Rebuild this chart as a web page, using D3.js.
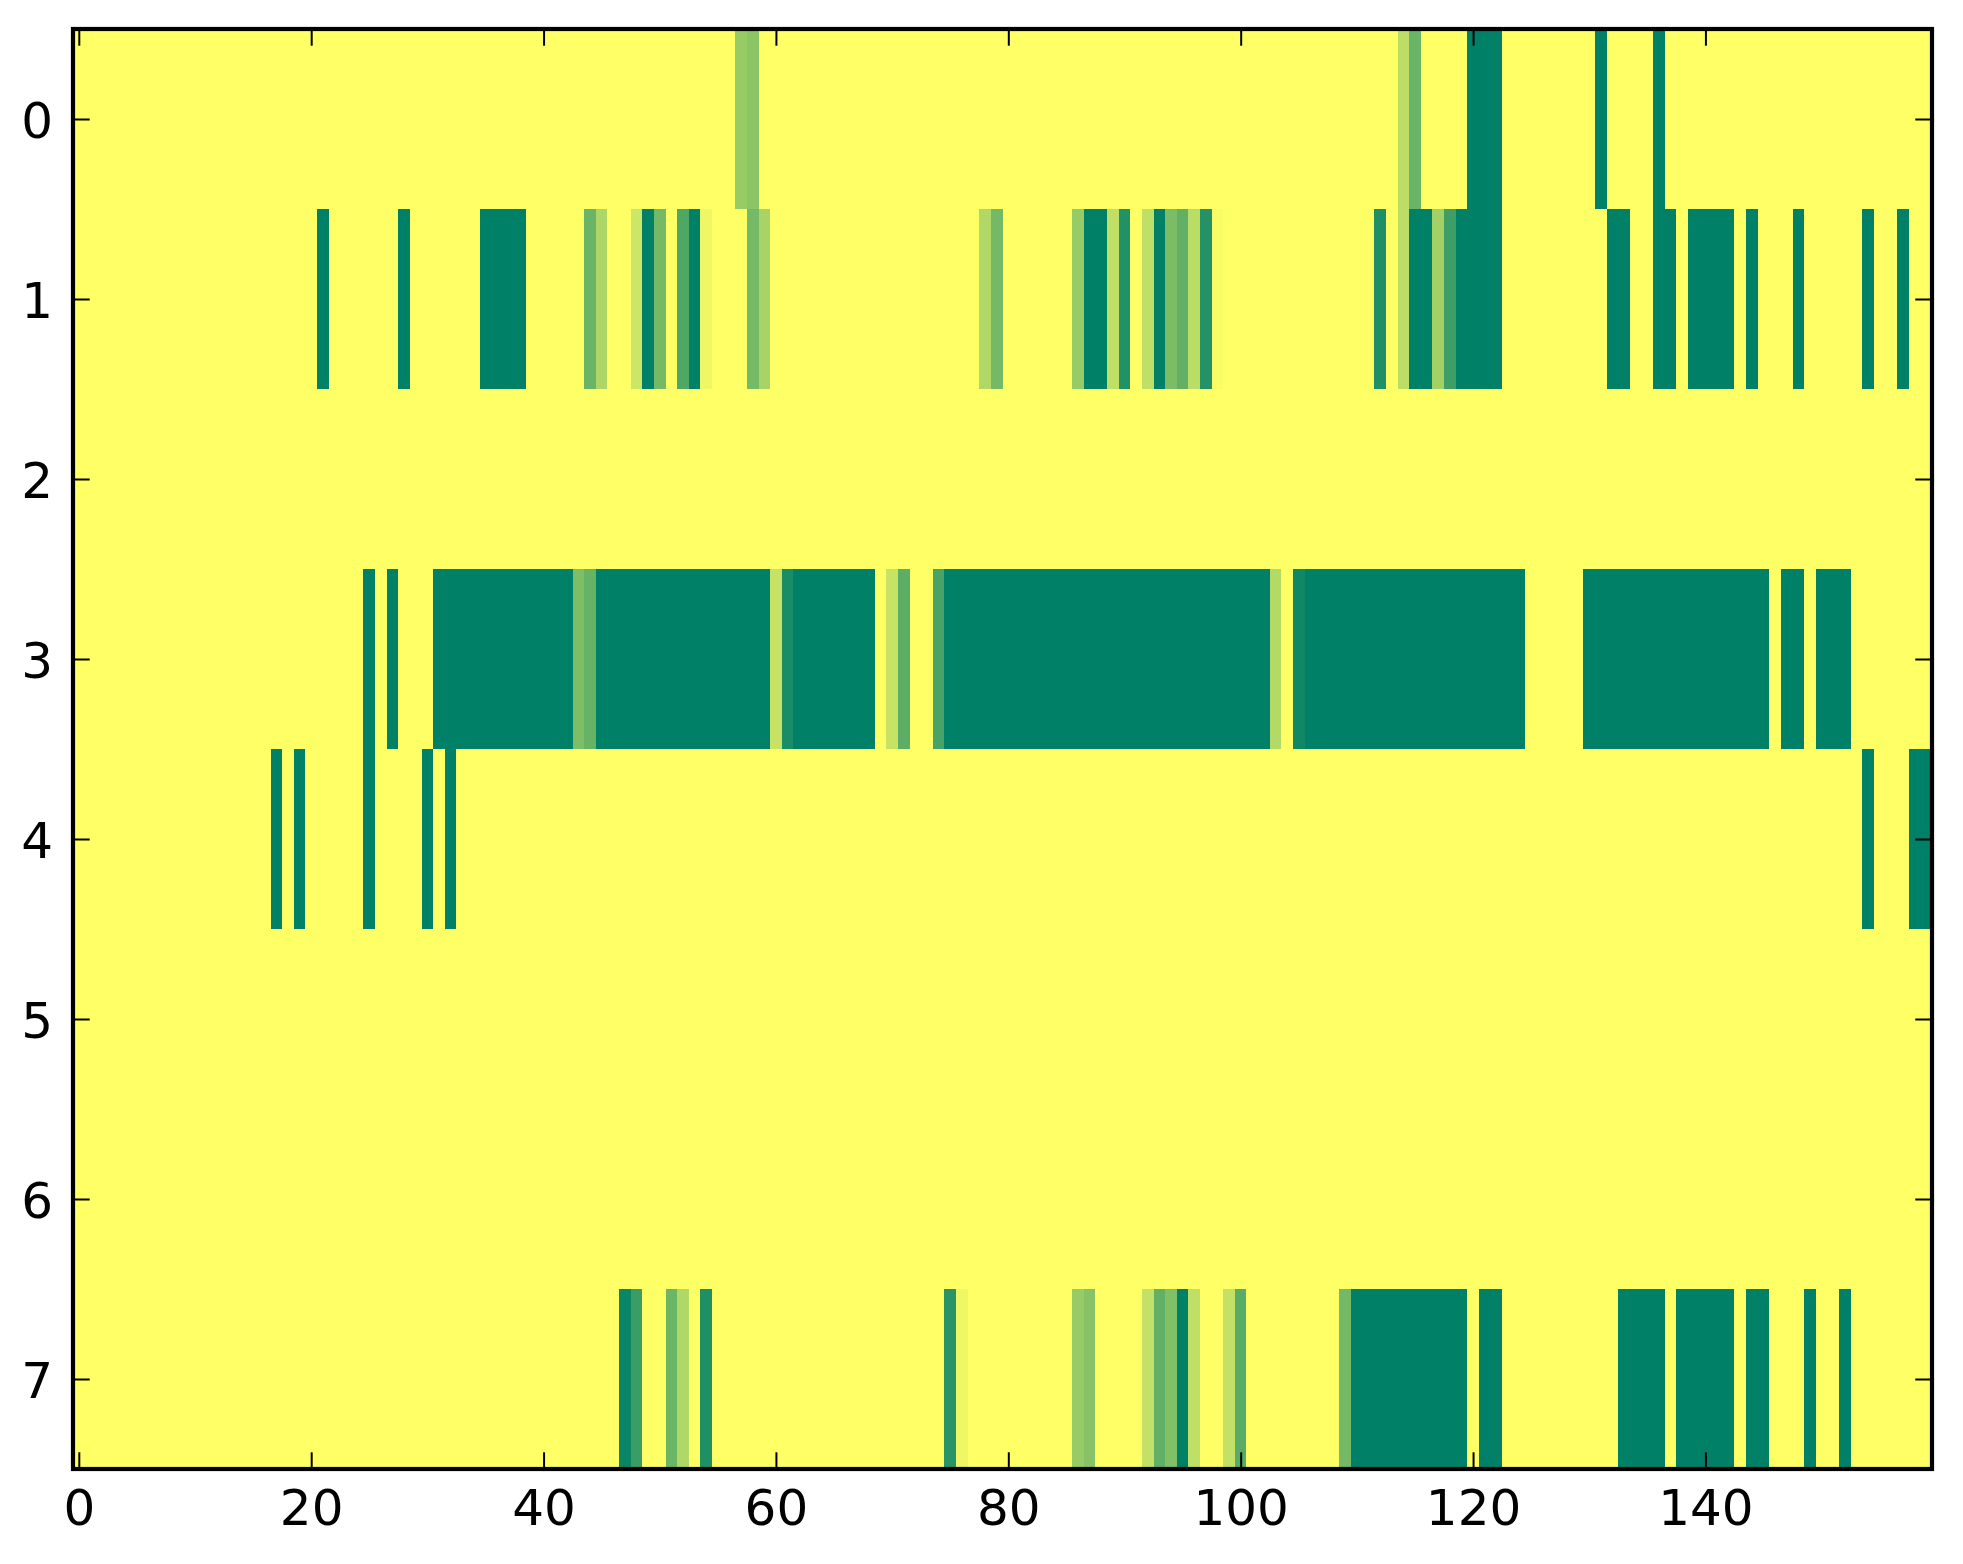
<!DOCTYPE html>
<html>
<head>
<meta charset="utf-8">
<script src="https://cdn.jsdelivr.net/npm/d3@7"></script>
<style>
  body { margin: 0; background: #fff; }
  svg { display: block; }
</style>
</head>
<body>
<svg id="chart" width="1963" height="1564"></svg>
<script>
var width = 1963;
var height = 1564;

var nCols = 160;
var rowLabels = [0, 1, 2, 3, 4, 5, 6, 7];
var xTicks = [0, 20, 40, 60, 80, 100, 120, 140];

// runs of cells per row: [from column, to column, value], everything else is 0
var row0 = [[57,57,0.41],[58,58,0.455],[114,114,0.26],[115,115,0.59],[120,122,1],[131,131,1],[136,136,1]];
var row1 = [[21,21,1],[28,28,1],[35,38,1],[44,44,0.59],[45,45,0.32],[48,48,0.2],[49,49,1],[50,50,0.545],
            [52,52,0.69],[53,53,1],[54,54,0.06],[58,58,0.54],[59,59,0.34],[78,78,0.31],[79,79,0.55],
            [86,86,0.41],[87,88,1],[89,89,0.25],[90,90,0.87],[92,92,0.25],[93,93,1],[94,94,0.52],
            [95,95,0.62],[96,96,0.27],[97,97,0.86],[98,98,0.02],[112,112,0.88],[114,114,0.26],
            [115,116,1],[117,117,0.36],[118,118,0.76],[119,122,1],[132,133,1],[136,137,1],
            [139,142,1],[144,144,1],[148,148,1],[154,154,1],[157,157,1]];
var row2 = [];
var row3 = [[25,25,1],[27,27,1],[31,42,1],[43,43,0.51],[44,44,0.6],[45,59,1],[60,60,0.22],[61,61,0.9],
            [62,68,1],[70,70,0.22],[71,71,0.64],[74,74,0.72],[75,102,1],[103,103,0.3],[105,105,0.94],
            [106,124,1],[130,145,1],[147,148,1],[150,152,1]];
var row4 = [[17,17,1],[19,19,1],[25,25,1],[30,30,1],[32,32,1],[154,154,1],[158,159,1]];
var row5 = [];
var row6 = [];
var row7 = [[47,47,0.96],[48,48,0.77],[51,51,0.58],[52,52,0.31],[54,54,0.88],[75,75,0.84],[76,76,0.06],
            [86,86,0.41],[87,87,0.47],[92,92,0.24],[93,93,0.62],[94,94,0.5],[95,95,1],[96,96,0.25],
            [99,99,0.24],[100,100,0.65],[109,109,0.55],[110,119,1],[121,122,1],[133,136,1],
            [138,142,1],[144,145,1],[149,149,1],[152,152,1]];

var rows = [row0, row1, row2, row3, row4, row5, row6, row7];

// expand the runs into a full grid of cells
var cells = [];
rows.forEach(function(runs, r) {
    var vals = new Array(nCols).fill(0);
    runs.forEach(function(run) {
        for (var c = run[0]; c <= run[1]; c++) vals[c] = run[2];
    });
    vals.forEach(function(v, c) { cells.push({row: r, col: c, value: v}); });
});

var plotLeft = 73, plotRight = 1932, plotTop = 29, plotBottom = 1469;
var tickLen = 16.7;

var x = d3.scaleLinear().domain([-0.5, nCols - 0.5]).range([plotLeft, plotRight]);
var y = d3.scaleLinear().domain([-0.5, rowLabels.length - 0.5]).range([plotTop, plotBottom]);

// summer_r colormap
var color = d3.scaleLinear().domain([0, 1]).range(["#ffff66", "#008066"]).interpolate(d3.interpolateRgb);

var svg = d3.select("#chart");

svg.append("g")
    .attr("id", "cells")
    .selectAll("rect")
    .data(cells)
    .join("rect")
    .attr("x", d => x(d.col - 0.5))
    .attr("y", d => y(d.row - 0.5))
    .attr("width", d => x(d.col + 0.5) - x(d.col - 0.5))
    .attr("height", d => y(d.row + 0.5) - y(d.row - 0.5))
    .attr("fill", d => color(d.value))
    .attr("shape-rendering", "crispEdges");

function styleAxis(g) {
    g.select(".domain").remove();
    g.selectAll(".tick line").attr("stroke", "#000").attr("stroke-width", 2);
    g.selectAll(".tick text")
        .attr("fill", "#000")
        .style("font-family", "'DejaVu Sans', sans-serif")
        .style("font-size", "50px");
}

svg.append("g")
    .attr("transform", `translate(0,${plotBottom})`)
    .call(d3.axisBottom(x).tickValues(xTicks).tickSizeInner(-tickLen).tickSizeOuter(0).tickPadding(20))
    .call(styleAxis);

svg.append("g")
    .attr("transform", `translate(0,${plotTop})`)
    .call(d3.axisTop(x).tickValues(xTicks).tickSizeInner(-tickLen).tickSizeOuter(0).tickFormat(""))
    .call(styleAxis);

svg.append("g")
    .attr("transform", `translate(${plotLeft},0)`)
    .call(d3.axisLeft(y).tickValues(rowLabels).tickSizeInner(-tickLen).tickSizeOuter(0).tickPadding(20))
    .call(styleAxis)
    .selectAll(".tick text").attr("dy", "0.36em");

svg.append("g")
    .attr("transform", `translate(${plotRight},0)`)
    .call(d3.axisRight(y).tickValues(rowLabels).tickSizeInner(-tickLen).tickSizeOuter(0).tickFormat(""))
    .call(styleAxis);

// frame
svg.append("rect")
    .attr("x", plotLeft)
    .attr("y", plotTop)
    .attr("width", plotRight - plotLeft)
    .attr("height", plotBottom - plotTop)
    .attr("fill", "none")
    .attr("stroke", "#000")
    .attr("stroke-width", 4.2);
</script>
</body>
</html>
